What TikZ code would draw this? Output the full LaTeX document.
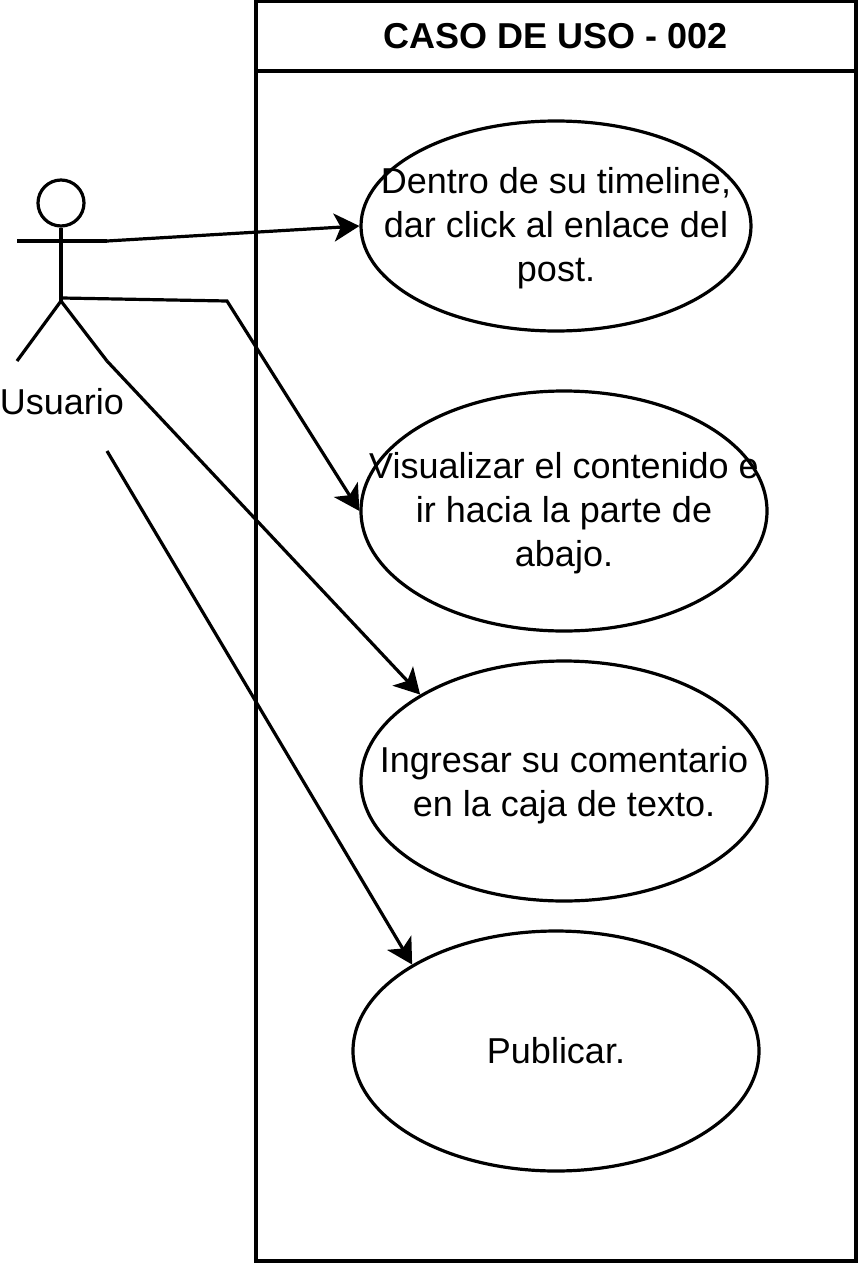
\documentclass[tikz,border=0pt]{standalone}
\usepackage{fontspec}
\setmainfont{Liberation Sans}
\usetikzlibrary{shapes.geometric}
\usetikzlibrary{arrows.meta}

\tikzset{
    usecase/.style={ellipse,draw,inner sep=0pt},
    casetext/.style={align=center,inner sep=0pt,font=\fontsize{27}{33}\selectfont},
    link/.style={-{Stealth[length=19pt,width=21pt,inset=5pt]}},
}

\begin{document}
\begin{tikzpicture}[x=0.75pt,y=-0.75pt,line width=2.4pt,line join=miter]
        \useasboundingbox (0,0) rectangle (861,1263);

        % draw the system box and its title
        \node[draw,minimum width=450pt,minimum height=945pt,inner sep=0pt] (sysbox) at (556,631) {};
        \node[draw,minimum width=450pt,minimum height=52.5pt,inner sep=0pt] (syshead) at (556,36) {};
        \node[casetext,font=\fontsize{27}{33}\selectfont\bfseries] (systitle) at (syshead) {CASO DE USO - 002};

        % draw the use cases
        \foreach \name/\x/\y/\w/\h/\dy/\txt in {
            caseA/556/226/292.5/157.5/2/{Dentro de su timeline,\\dar click al enlace del\\post.},
            caseB/564/511/304.5/180/2/{Visualizar el contenido e\\ir hacia la parte de\\abajo.},
            caseC/564/781/304.5/180/3/{Ingresar su comentario\\en la caja de texto.},
            caseD/556/1051/304.5/180/0/{Publicar.}} {
                \node[usecase,minimum width=\w pt,minimum height=\h pt] (\name) at (\x,\y) {};
                \node[casetext,yshift=-\dy pt] (\name text) at (\name) {\txt};
        }

        % draw the actor
        \node[circle,draw,minimum size=34.5pt,inner sep=0pt] (head) at (61,203) {};
        \coordinate (hip) at (61,301);
        \coordinate (armL) at (17,241);
        \coordinate (armR) at (107,241);
        \coordinate (legL) at (17,361);
        \coordinate (legR) at (107,361);
        \draw (head.south) -- (hip);
        \draw (armL) -- (armR);
        \draw (legL) -- (hip) -- (legR);
        \node[casetext] (actor) at (62,402) {Usuario};

        % draw the connectors
        \coordinate (waist) at (62,298);
        \coordinate (bendB) at (227,301);
        \coordinate (startD) at (107,451);
        \draw[link] (armR) -- (caseA.west);
        \draw[link] (waist) -- (bendB) -- (caseB.west);
        \draw[link] (legR) -- (caseC.149);
        \draw[link] (startD) -- (caseD.149);
\end{tikzpicture}
\end{document}
